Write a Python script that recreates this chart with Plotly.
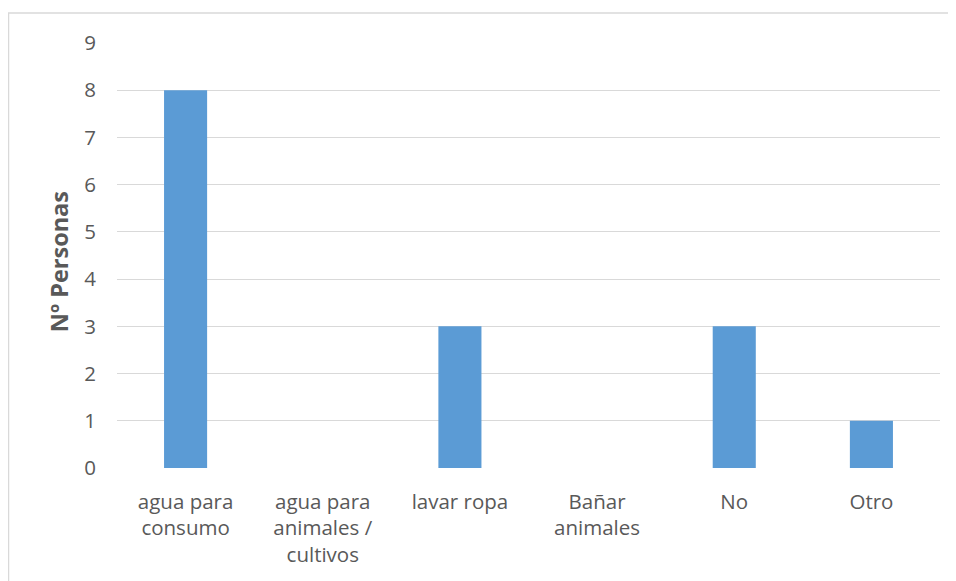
import plotly.graph_objects as go

categories = ["agua para<br>consumo", "agua para<br>animales /<br>cultivos", "lavar ropa",
              "Bañar<br>animales", "No", "Otro"]
values = [8, 0, 3, 0, 3, 1]
y_ticks = list(range(0, 10))

# page body has an 8px margin; figure sits at (8, 8)
OFF = 8
W, H = 956 - OFF, 581 - OFF
L, R, T, B = 117 - OFF, 940 - OFF, 42.5 - OFF, 468.3 - OFF
pw, ph = R - L, B - T

font_fam = "Open Sans, Noto Sans, sans-serif"
txt = "#595959"

fig = go.Figure(go.Bar(
    x=categories, y=values, marker=dict(color="#5B9BD5", line=dict(width=0)),
    width=0.314, hoverinfo="x+y",
))

fig.update_layout(
    width=W, height=H,
    margin=dict(l=L, r=W - R, t=T, b=H - B, autoexpand=False),
    paper_bgcolor="white", plot_bgcolor="white",
    showlegend=False,
    font=dict(family=font_fam, size=20, color=txt),
    xaxis=dict(showgrid=False, showline=False, zeroline=False, automargin=False,
               tickfont=dict(size=20.5, color=txt), ticks="", ticklabelstandoff=19,
               tickangle=0),
    yaxis=dict(range=[0, 9], tickvals=y_ticks, showgrid=True, gridcolor="#D9D9D9",
               gridwidth=1.3, zeroline=False, showline=False, automargin=False,
               ticks="", ticklabelstandoff=20, tickfont=dict(size=20.5, color=txt),
               title=dict(text="<b>Nº Personas\u00a0\u00a0</b>", standoff=9,
                          font=dict(size=23.5, color=txt))),
    shapes=[dict(type="rect", xref="paper", yref="paper",
                 x0=(0.5 - L) / pw, x1=(1000 - L) / pw,
                 y0=(B - 700) / ph, y1=(B - 4.5) / ph,
                 line=dict(color="#D9D9D9", width=1.5), fillcolor="rgba(0,0,0,0)",
                 layer="below")],
)

fig.write_html("out.html")
